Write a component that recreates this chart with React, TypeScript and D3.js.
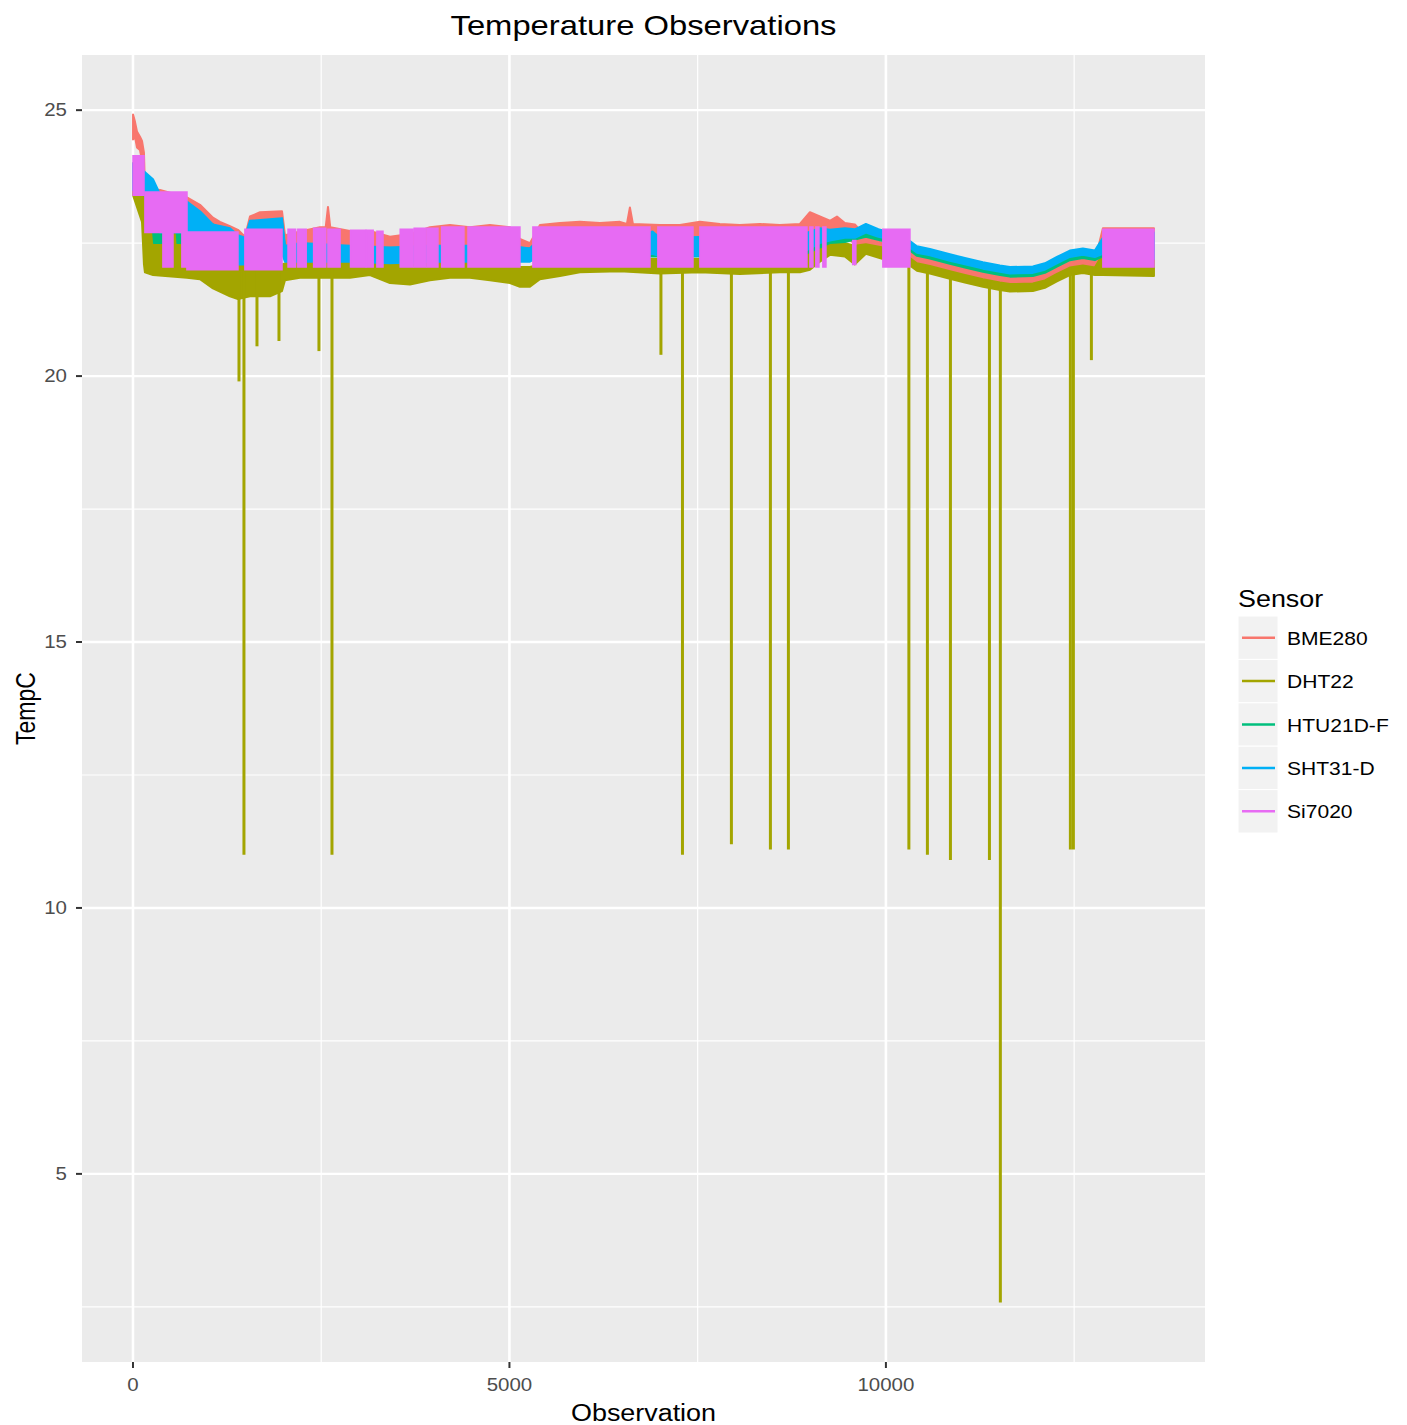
import React from "react";
import * as d3 from "d3";

const sensors = ["BME280", "DHT22", "HTU21D-F", "SHT31-D", "Si7020"];
const sensorColors = ["#F8766D", "#A3A500", "#00BF7D", "#00B0F6", "#E76BF3"];

// [observation, low, high]: range the reading swings through around that observation
const bme280 = [
  [1, 24.45, 24.92], [27, 24.5, 24.78], [53, 24.3, 24.6], [93, 24.25, 24.5], [120, 24.05, 24.42],
  [146, 23.8, 24.2], [159, 23.2, 23.52], [359, 22.9, 23.5], [717, 22.8, 23.36], [890, 22.7, 23.22],
  [1062, 22.5, 22.98], [1155, 22.4, 22.9], [1288, 22.3, 22.82], [1394, 22.2, 22.75], [1487, 22.2, 22.62],
  [1554, 22.4, 23.0], [1687, 22.5, 23.08], [1979, 22.5, 23.1], [2019, 22.2, 22.65], [2218, 22.2, 22.72],
  [2483, 22.2, 22.8], [2560, 22.2, 22.8], [2590, 22.3, 23.18], [2620, 22.2, 22.8], [2882, 22.2, 22.73],
  [3147, 22.2, 22.73], [3413, 22.2, 22.62], [3679, 22.2, 22.67], [3944, 22.3, 22.8], [4210, 22.3, 22.84],
  [4475, 22.3, 22.8], [4741, 22.3, 22.84], [5007, 22.3, 22.8], [5139, 22.2, 22.58], [5272, 22.2, 22.5],
  [5405, 22.3, 22.84], [5671, 22.35, 22.88], [5936, 22.35, 22.9], [6202, 22.35, 22.88], [6468, 22.35, 22.9],
  [6560, 22.35, 22.86], [6600, 22.4, 23.17], [6640, 22.35, 22.86], [6999, 22.3, 22.84], [7264, 22.3, 22.84],
  [7530, 22.3, 22.9], [7795, 22.3, 22.86], [8061, 22.3, 22.84], [8327, 22.3, 22.86], [8592, 22.3, 22.84],
  [8858, 22.3, 22.86], [8991, 22.6, 23.08], [9123, 22.6, 23.0], [9256, 22.6, 22.92], [9350, 22.65, 23.0],
  [9455, 22.6, 22.88], [9588, 22.5, 22.85], [9734, 22.4, 22.62], [9960, 22.3, 22.5], [10319, 22.24, 22.34],
  [10412, 22.14, 22.24], [10584, 22.09, 22.19], [10850, 21.99, 22.09], [11049, 21.92, 22.02], [11288, 21.84, 21.94],
  [11514, 21.78, 21.88], [11647, 21.75, 21.85], [11952, 21.76, 21.86], [12111, 21.82, 21.92], [12271, 21.94, 22.04],
  [12443, 22.06, 22.16], [12616, 22.1, 22.2], [12775, 22.06, 22.16], [12882, 22.15, 22.78], [13560, 22.15, 22.78],
];

const dht22 = [
  [1, 23.4, 24.0], [120, 22.9, 23.4], [146, 22.1, 23.38], [159, 21.95, 23.3], [266, 21.9, 23.0],
  [717, 21.85, 22.75], [890, 21.82, 22.4], [1062, 21.65, 22.3], [1288, 21.5, 22.2], [1394, 21.45, 22.1],
  [1554, 21.5, 22.1], [1819, 21.5, 22.1], [1979, 21.6, 22.1], [2019, 21.8, 22.12], [2218, 21.85, 22.15],
  [2882, 21.85, 22.15], [3147, 21.9, 22.18], [3413, 21.75, 22.1], [3679, 21.72, 22.1], [3944, 21.8, 22.12],
  [4210, 21.85, 22.15], [4475, 21.85, 22.15], [4741, 21.8, 22.1], [5007, 21.75, 22.1], [5139, 21.68, 22.05],
  [5272, 21.68, 22.05], [5405, 21.82, 22.1], [5671, 21.88, 22.12], [5936, 21.95, 22.2], [6468, 21.97, 22.2],
  [6999, 21.93, 22.2], [7530, 21.95, 22.2], [8061, 21.92, 22.2], [8592, 21.95, 22.2], [8858, 21.95, 22.2],
  [8991, 22.0, 22.35], [9123, 22.15, 22.45], [9256, 22.28, 22.5], [9455, 22.25, 22.5], [9588, 22.1, 22.45],
  [9734, 22.3, 22.48], [9960, 22.2, 22.42], [10319, 22.08, 22.22], [10412, 21.98, 22.12], [10584, 21.93, 22.07],
  [10850, 21.83, 21.97], [11049, 21.76, 21.9], [11288, 21.68, 21.82], [11514, 21.62, 21.76], [11647, 21.59, 21.73],
  [11952, 21.6, 21.74], [12111, 21.66, 21.8], [12271, 21.78, 21.92], [12443, 21.9, 22.04], [12616, 21.94, 22.08],
  [12775, 21.9, 22.04], [12882, 21.9, 22.3], [13560, 21.88, 22.3],
];

const htu21df = [
  [1, 23.5, 23.9], [146, 23.45, 23.8], [266, 22.72, 23.4], [280, 22.5, 23.4], [390, 22.5, 23.35],
  [400, 22.72, 23.35], [580, 22.72, 23.3], [590, 22.5, 23.3], [660, 22.5, 23.25], [670, 22.72, 23.25],
  [717, 22.75, 23.2], [1062, 22.7, 22.85], [1394, 22.2, 22.6], [1487, 22.2, 22.58], [1554, 22.35, 22.85],
  [1979, 22.35, 22.9], [2019, 22.2, 22.42], [5272, 22.18, 22.4], [5405, 22.25, 22.55], [8858, 22.25, 22.58],
  [9256, 22.5, 22.68], [9455, 22.52, 22.7], [9734, 22.62, 22.78], [9960, 22.54, 22.68], [10319, 22.36, 22.46],
  [10412, 22.26, 22.36], [10584, 22.21, 22.31], [10850, 22.11, 22.21], [11049, 22.04, 22.14], [11288, 21.96, 22.06],
  [11514, 21.9, 22.0], [11647, 21.87, 21.97], [11952, 21.88, 21.98], [12111, 21.94, 22.04], [12271, 22.06, 22.16],
  [12443, 22.18, 22.28], [12616, 22.22, 22.32], [12775, 22.18, 22.28], [12882, 22.25, 22.55], [13560, 22.2, 22.6],
];

const sht31d = [
  [1, 23.5, 24.0], [146, 23.46, 23.85], [266, 23.3, 23.7], [359, 22.7, 23.42], [717, 22.7, 23.28],
  [890, 22.7, 23.1], [1062, 22.6, 22.85], [1155, 22.5, 22.82], [1288, 22.4, 22.78], [1394, 22.1, 22.65],
  [1487, 22.1, 22.6], [1554, 22.3, 22.92], [1979, 22.3, 22.97], [2019, 22.15, 22.45], [2218, 22.15, 22.5],
  [2882, 22.15, 22.45], [3413, 22.12, 22.42], [3944, 22.15, 22.45], [4475, 22.15, 22.45], [5007, 22.15, 22.45],
  [5272, 22.15, 22.4], [5405, 22.25, 22.6], [6733, 22.25, 22.6], [6900, 22.3, 22.72], [6999, 22.25, 22.6],
  [8858, 22.3, 22.65], [9123, 22.5, 22.78], [9256, 22.55, 22.75], [9455, 22.6, 22.78], [9588, 22.6, 22.76],
  [9734, 22.7, 22.86], [9900, 22.62, 22.76], [9960, 22.6, 22.74], [10319, 22.42, 22.54], [10412, 22.32, 22.44],
  [10584, 22.27, 22.39], [10850, 22.17, 22.29], [11049, 22.1, 22.22], [11288, 22.02, 22.14], [11514, 21.96, 22.08],
  [11647, 21.93, 22.05], [11952, 21.94, 22.06], [12111, 22.0, 22.12], [12271, 22.12, 22.24], [12443, 22.24, 22.36],
  [12616, 22.28, 22.4], [12775, 22.24, 22.36], [12882, 22.3, 22.6], [13560, 22.2, 22.7],
];

// Si7020 only shows up in blocks where it flips fast: [startObs, endObs, low, high]
const si7020Blocks = [
  [1, 146, 23.4, 24.14], [159, 717, 22.7, 23.46], [398, 531, 22.05, 22.7], [650, 717, 22.05, 22.7],
  [717, 1394, 22.0, 22.71], [1487, 1979, 22.0, 22.76], [2060, 2160, 22.05, 22.76], [2190, 2300, 22.05, 22.76],
  [2400, 2560, 22.05, 22.78], [2590, 2750, 22.05, 22.76], [2890, 3090, 22.05, 22.74], [3100, 3190, 22.05, 22.74],
  [3240, 3320, 22.05, 22.72], [3550, 3720, 22.05, 22.76], [3735, 3890, 22.05, 22.78], [3905, 4050, 22.05, 22.78],
  [4100, 4395, 22.05, 22.8], [4450, 5139, 22.05, 22.8], [5312, 6866, 22.05, 22.8], [6972, 7437, 22.05, 22.8],
  [7530, 8951, 22.05, 22.8], [8991, 9030, 22.05, 22.8], [9070, 9110, 22.05, 22.8], [9163, 9203, 22.05, 22.8],
  [9560, 9600, 22.1, 22.55], [9960, 10319, 22.05, 22.76], [12882, 13560, 22.05, 22.76],
];

// DHT22 bad reads: [observation, reading]
const dht22Dropouts = [
  [1408, 19.9], [1474, 11.0], [1647, 20.56], [1939, 20.66], [2470, 20.47], [2643, 11.0],
  [7012, 20.4], [7298, 11.0], [7948, 11.2], [8466, 11.1], [8705, 11.1], [10305, 11.1],
  [10551, 11.0], [10857, 10.9], [11375, 10.9], [11520, 2.58], [12450, 11.1], [12490, 11.1], [12729, 20.3],
];

const xBreaks = [0, 5000, 10000];
const yBreaks = [5, 10, 15, 20, 25];

const W = 1407;
const H = 1425;
const P = { left: 82, right: 1205, top: 55, bottom: 1362 };
const SX = 1.17; // the picture is stretched sideways, text too
const FONT = "'Liberation Sans', Arial, Helvetica, sans-serif";

function Label({ x, y, size, anchor = "start", rotate = 0, fill = "#000", children }: any) {
  return (
    <text
      transform={`translate(${x},${y}) scale(${SX},1) rotate(${rotate})`}
      fontSize={size}
      textAnchor={anchor}
      fill={fill}
      fontFamily={FONT}
    >
      {children}
    </text>
  );
}

export default function App() {
  const envelopes = [bme280, dht22, htu21df, sht31d];

  const obsAll = [
    ...envelopes.flat().map((d) => d[0]),
    ...si7020Blocks.flatMap((b) => [b[0], b[1]]),
  ];
  const tempAll = [
    ...envelopes.flat().flatMap((d) => [d[1], d[2]]),
    ...si7020Blocks.flatMap((b) => [b[2], b[3]]),
    ...dht22Dropouts.map((d) => d[1]),
  ];
  const [x0, x1] = d3.extent(obsAll) as [number, number];
  const [y0, y1] = d3.extent(tempAll) as [number, number];
  const xPad = (x1 - x0) * 0.05;
  const yPad = (y1 - y0) * 0.05;

  const x = d3.scaleLinear().domain([x0 - xPad, x1 + xPad]).range([P.left, P.right]);
  const y = d3.scaleLinear().domain([y0 - yPad, y1 + yPad]).range([P.bottom, P.top]);

  const band = d3
    .area<number[]>()
    .x((d) => x(d[0]))
    .y0((d) => y(d[1]))
    .y1((d) => y(d[2]));
  const line = d3.line<number[]>().x((d) => x(d[0])).y((d) => y(d[1]));

  // top of the DHT22 band, where the dropouts start from
  const dhtTop = d3.scaleLinear().domain(dht22.map((d) => d[0])).range(dht22.map((d) => d[2]));

  const minor = (breaks: number[], dom: number[]) => {
    const step = breaks[1] - breaks[0];
    return d3
      .range(breaks[0] - step / 2, breaks[breaks.length - 1] + step, step)
      .filter((v) => v >= dom[0] && v <= dom[1]);
  };
  const xMinor = minor(xBreaks, x.domain());
  const yMinor = minor(yBreaks, y.domain());

  const legendTop = 616;
  const keyH = 43.4;

  return (
    <svg
      width={W}
      height={H}
      style={{ position: "absolute", left: 0, top: 0, background: "#fff" }}
    >
      <rect x={0} y={0} width={W} height={H} fill="#fff" />

      {/* panel */}
      <rect x={P.left} y={P.top} width={P.right - P.left} height={P.bottom - P.top} fill="#EBEBEB" />
      {xMinor.map((v) => (
        <line key={"xm" + v} x1={x(v)} x2={x(v)} y1={P.top} y2={P.bottom} stroke="#fff" strokeWidth={1.2} />
      ))}
      {yMinor.map((v) => (
        <line key={"ym" + v} x1={P.left} x2={P.right} y1={y(v)} y2={y(v)} stroke="#fff" strokeWidth={1.2} />
      ))}
      {xBreaks.map((v) => (
        <line key={"xM" + v} x1={x(v)} x2={x(v)} y1={P.top} y2={P.bottom} stroke="#fff" strokeWidth={2.6} />
      ))}
      {yBreaks.map((v) => (
        <line key={"yM" + v} x1={P.left} x2={P.right} y1={y(v)} y2={y(v)} stroke="#fff" strokeWidth={2.4} />
      ))}

      {/* sensors, drawn in legend order so Si7020 ends on top */}
      <path d={band(bme280) || ""} fill={sensorColors[0]} stroke={sensorColors[0]} strokeWidth={2} strokeLinejoin="round" />

      <path d={band(dht22) || ""} fill={sensorColors[1]} stroke={sensorColors[1]} strokeWidth={2} strokeLinejoin="round" />
      {dht22Dropouts.map((d) => (
        <path
          key={"drop" + d[0]}
          d={line([[d[0], dhtTop(d[0])], [d[0], d[1]]]) || ""}
          stroke={sensorColors[1]}
          strokeWidth={3}
          fill="none"
        />
      ))}

      <path d={band(htu21df) || ""} fill={sensorColors[2]} stroke={sensorColors[2]} strokeWidth={2} strokeLinejoin="round" />
      <path d={band(sht31d) || ""} fill={sensorColors[3]} stroke={sensorColors[3]} strokeWidth={2} strokeLinejoin="round" />

      {si7020Blocks.map((b) => (
        <path
          key={"si" + b[0]}
          d={band([[b[0], b[2], b[3]], [b[1], b[2], b[3]]]) || ""}
          fill={sensorColors[4]}
          stroke={sensorColors[4]}
          strokeWidth={1.6}
        />
      ))}

      {/* axes */}
      {yBreaks.map((v) => (
        <g key={"yt" + v}>
          <line x1={P.left - 6} x2={P.left} y1={y(v)} y2={y(v)} stroke="#333" strokeWidth={2} />
          <Label x={67} y={y(v) + 6} size={17.5} anchor="end" fill="#4D4D4D">
            {v}
          </Label>
        </g>
      ))}
      {xBreaks.map((v) => (
        <g key={"xt" + v}>
          <line x1={x(v)} x2={x(v)} y1={P.bottom} y2={P.bottom + 6} stroke="#333" strokeWidth={2} />
          <Label x={x(v)} y={1391} size={17.5} anchor="middle" fill="#4D4D4D">
            {v}
          </Label>
        </g>
      ))}

      <Label x={(P.left + P.right) / 2} y={1421} size={23} anchor="middle">
        Observation
      </Label>
      <Label x={35} y={(P.top + P.bottom) / 2} size={23} anchor="middle" rotate={-90}>
        TempC
      </Label>
      <Label x={(P.left + P.right) / 2} y={35} size={28} anchor="middle">
        Temperature Observations
      </Label>

      {/* legend */}
      <Label x={1238} y={607} size={23}>
        Sensor
      </Label>
      {sensors.map((s, i) => {
        const cy = legendTop + keyH * i + keyH / 2;
        return (
          <g key={s}>
            <rect x={1238} y={cy - keyH / 2} width={40} height={keyH} fill="#F2F2F2" stroke="#fff" strokeWidth={1} />
            <line x1={1242} x2={1275} y1={cy} y2={cy} stroke={sensorColors[i]} strokeWidth={2.5} />
            <Label x={1287} y={cy + 7} size={18}>
              {s}
            </Label>
          </g>
        );
      })}
    </svg>
  );
}
